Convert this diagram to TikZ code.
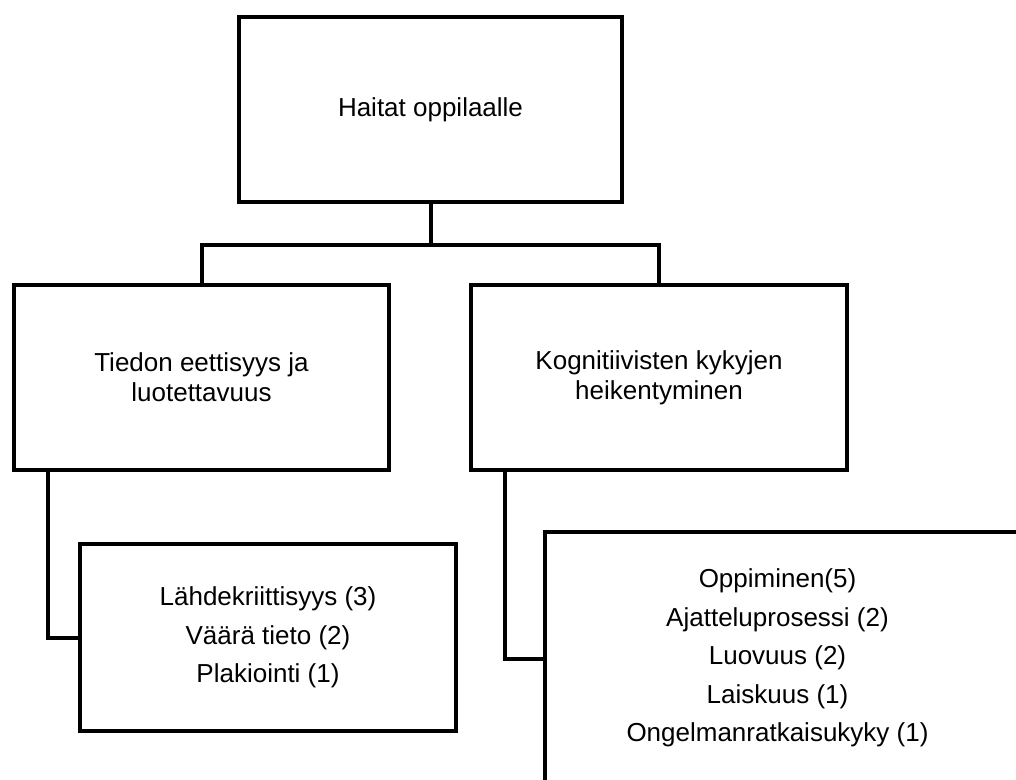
\documentclass[tikz,border=0pt]{standalone}
\usepackage{fontspec}
\setmainfont{Liberation Sans}
\begin{document}
\begin{tikzpicture}[x=0.75pt,y=-0.75pt,
  box/.style={draw=black, line width=3pt, fill=white, rectangle, inner sep=0pt, align=center},
  conn/.style={draw=black, line width=3pt},
  txtA/.style={font=\fontsize{19.5}{22.5}\selectfont},
  txtB/.style={font=\fontsize{19.5}{28.9}\selectfont}]
\useasboundingbox (0,0) rectangle (1016,780);
\clip (0,0) rectangle (1016,780);
% boxes
\node[box, txtA, minimum width=287.25pt, minimum height=138.75pt] (top) at (430.5,109.5) {Haitat oppilaalle};
\node[box, txtA, minimum width=281.25pt, minimum height=138.75pt] (left) at (201.5,377.5) {Tiedon eettisyys ja\\luotettavuus};
\node[box, txtA, minimum width=282pt, minimum height=138.75pt] (right) at (659,377.5) {Kognitiivisten kykyjen\\heikentyminen};
\node[box, txtB, minimum width=282pt, minimum height=140.25pt] (bl) at (268,637.5) {Lähdekriittisyys (3)\\Väärä tieto (2)\\Plakiointi (1)};
\node[box, minimum width=371.25pt, minimum height=190.5pt] (brbox) at (792.5,659) {};
\node[txtB, align=center, inner sep=0pt] (brtext) at (777.5,658) {Oppiminen(5)\\Ajatteluprosessi (2)\\Luovuus (2)\\Laiskuus (1)\\Ongelmanratkaisukyky (1)};
% connectors
\coordinate (j) at (430.5,245);
\draw[conn] (top.south) -- (j);
\draw[conn] (left.north) |- (j) -| (right.north);
\draw[conn] ([xshift=27pt]left.south west) |- (bl.west);
\draw[conn] ([xshift=27pt]right.south west) |- (brbox.west);
\end{tikzpicture}
\end{document}
